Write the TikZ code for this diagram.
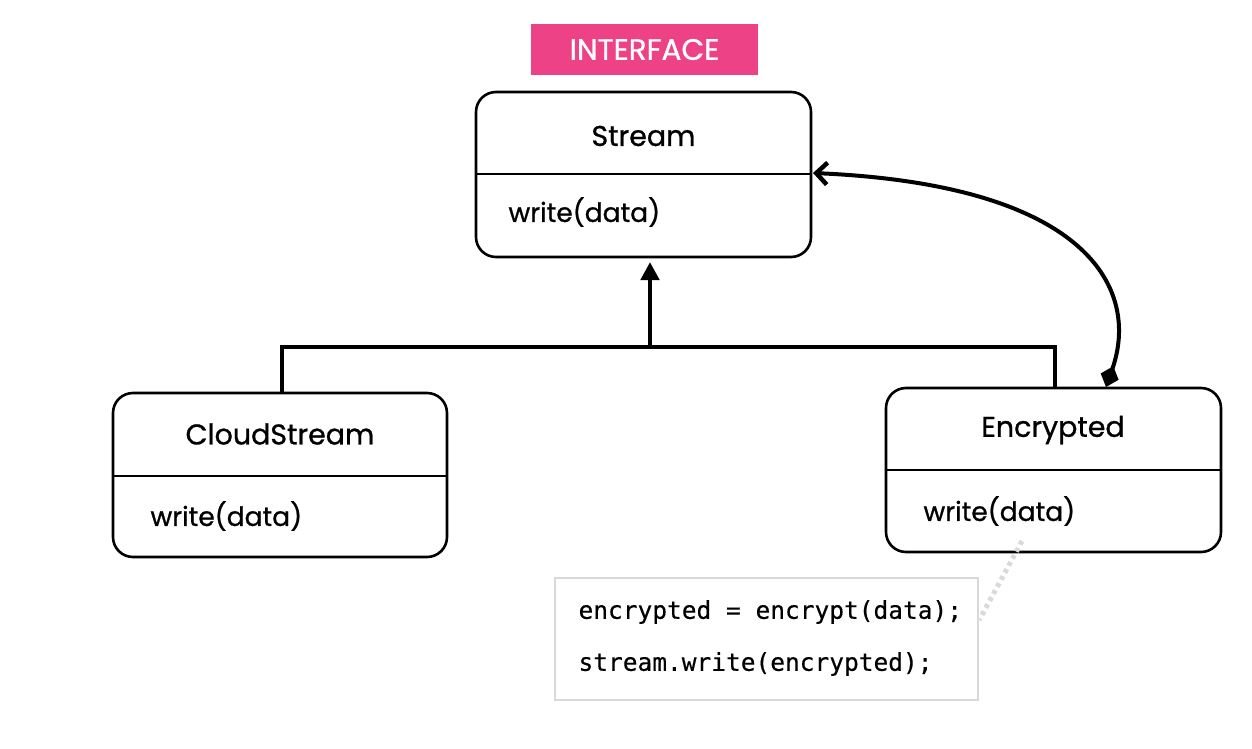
\documentclass[tikz,border=0pt]{standalone}
\usepackage{fontspec}
\setmainfont{Poppins}[FakeBold=0.9]
\setmonofont{DejaVu Sans Mono}[FakeBold=0.4]
\usetikzlibrary{arrows.meta}
\definecolor{pink}{HTML}{EE4286}
\definecolor{codegray}{HTML}{D9D9D9}
\tikzset{
  box/.style={draw, line width=2.6pt, rounded corners=20pt},
  divider/.style={line width=2.6pt},
  title/.style={font=\fontsize{28.5}{32}\selectfont, anchor=center},
  method/.style={font=\fontsize{26.5}{30}\selectfont, anchor=west},
  inh/.style={line width=4.5pt},
  code/.style={font=\ttfamily\fontsize{24.5}{28}\selectfont, anchor=west},
}
\begin{document}
\begin{tikzpicture}[x=1pt,y=-1pt]
\useasboundingbox (0,0) rectangle (1252,749);
% Interface label
\node[fill=pink, minimum width=227pt, minimum height=51pt, inner sep=0pt, text=white,
      font=\fontsize{29.5}{32}\selectfont] (iface) at (644.5,49.5) {INTERFACE};
% Stream
\draw[box] (476,92) rectangle (811,257);
\node[draw=none, minimum width=335pt, minimum height=165pt, inner sep=0pt] (stream) at (643.5,174.5) {};
\draw[divider] (476,174) -- (811,174);
\node[title] (streamT) at (643.5,136) {Stream};
\node[method] (streamM) at (505,212) {write(data)};
% CloudStream
\draw[box] (113,393) rectangle (447,557);
\node[minimum width=334pt, minimum height=164pt, inner sep=0pt] (cloud) at (280,475) {};
\draw[divider] (113,476) -- (447,476);
\node[title] (cloudT) at (280,434) {CloudStream};
\node[method] (cloudM) at (147,516) {write(data)};
% Encrypted
\draw[box] (886,388) rectangle (1221,552);
\node[minimum width=335pt, minimum height=164pt, inner sep=0pt] (enc) at (1053.5,470) {};
\draw[divider] (886,470) -- (1221,470);
\node[title] (encT) at (1053,430) {Encrypted};
\node[method] (encM) at (920,511) {write(data)};
% inheritance
\coordinate (join) at (650,347);
\draw[inh] (cloud.north -| 282,0) -- (282,347) -- (1055,347) -- (enc.north -| 1055,0);
\draw[inh, -{Triangle[length=18pt,width=18pt]}] (join) -- (650,262);
% aggregation curve
\coordinate (encTop) at (1105,388);
\coordinate (streamR) at (811,174);
\draw[line width=4pt, {Diamond[length=22pt,width=19pt]}-{Straight Barb[length=11pt,width=22pt,line width=4.5pt]}]
  (1106,387) .. controls (1140,290) and (1090,185) .. (813,173);
% code box
\node[draw=codegray, line width=2.5pt, minimum width=423pt, minimum height=122pt, inner sep=0pt] (codebox) at (766.5,639) {};
\node[code] (c1) at (575,612) {encrypted = encrypt(data);};
\node[code] (c2) at (575,664) {stream.write(encrypted);};
% dotted connector
\coordinate (dotA) at (1022,541);
\draw[codegray, line width=5pt, dash pattern=on 4pt off 4pt] (dotA) -- (codebox.east |- 0,620);
\end{tikzpicture}
\end{document}
